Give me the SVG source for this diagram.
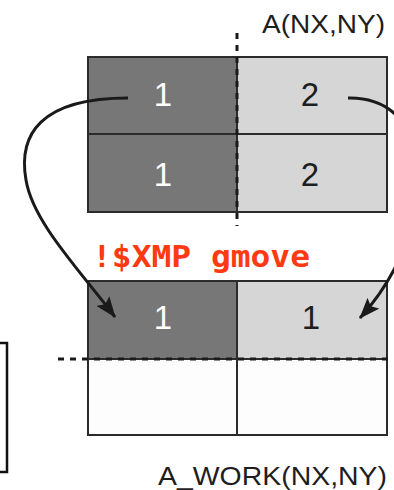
<svg xmlns="http://www.w3.org/2000/svg" width="394" height="490" viewBox="0 0 394 490">
  <style>
    .dark { fill: #777777; stroke: #2b2b2b; stroke-width: 2; }
    .light { fill: #d6d6d6; stroke: #2b2b2b; stroke-width: 2; }
    .empty { fill: #fdfdfd; stroke: #2b2b2b; stroke-width: 2; }
    .num { font-family: "Liberation Sans", Arial, sans-serif; font-size: 33px; text-anchor: middle; }
    .num-w { fill: #ffffff; }
    .num-b { fill: #1e1e1e; }
    .label { font-family: "Liberation Sans", Arial, sans-serif; font-size: 26px; fill: #1e1e1e; }
    .dash { stroke: #1a1a1a; stroke-width: 3; fill: none; stroke-dasharray: 6 6; }
    .conn { stroke: #1a1a1a; stroke-width: 3; fill: none; marker-end: url(#head); }
    .directive { font-family: "DejaVu Sans Mono", "Liberation Mono", monospace; font-weight: bold; font-size: 30px; fill: #ff3a12; }
  </style>
  <defs>
    <marker id="head" markerUnits="userSpaceOnUse" markerWidth="22" markerHeight="16" viewBox="0 0 22 16" refX="20" refY="8" orient="auto">
      <path d="M0,0 L21,8 L0,16 L4,8 Z" fill="#1a1a1a"/>
    </marker>
  </defs>

  <rect width="394" height="490" fill="#ffffff"/>

  <!-- source array A(NX,NY) -->
  <g id="array-a">
    <rect class="dark" x="88" y="57" width="149" height="77"/>
    <rect class="light" x="237" y="57" width="150" height="77"/>
    <rect class="dark" x="88" y="134" width="149" height="78"/>
    <rect class="light" x="237" y="134" width="150" height="78"/>
    <line class="dash" x1="237" y1="33" x2="237" y2="226" stroke-dasharray="6 5"/>
    <text class="num num-w" x="163" y="106">1</text>
    <text class="num num-b" x="310" y="106">2</text>
    <text class="num num-w" x="163" y="186">1</text>
    <text class="num num-b" x="310" y="186">2</text>
    <text class="label" x="262" y="33" textLength="123" lengthAdjust="spacingAndGlyphs">A(NX,NY)</text>
  </g>

  <!-- work array A_WORK(NX,NY) -->
  <g id="array-work">
    <rect class="dark" x="88" y="281" width="149" height="78"/>
    <rect class="light" x="237" y="281" width="150" height="78"/>
    <rect class="empty" x="88" y="359" width="149" height="76"/>
    <rect class="empty" x="237" y="359" width="150" height="76"/>
    <line class="dash" x1="58" y1="359" x2="394" y2="359"/>
    <text class="num num-w" x="163" y="329">1</text>
    <text class="num num-b" x="311" y="329">1</text>
    <text class="label" x="158" y="485" textLength="229" lengthAdjust="spacingAndGlyphs">A_WORK(NX,NY)</text>
  </g>

  <!-- edge of a neighbouring box -->
  <g id="side-box">
    <rect x="-10" y="343" width="17" height="129" fill="none" stroke="#111111" stroke-width="2.5"/>
  </g>

  <!-- directive label -->
  <g id="directive">
    <text class="directive" x="92" y="267" textLength="218" lengthAdjust="spacingAndGlyphs">!$XMP gmove</text>
  </g>

  <!-- data movement arrows -->
  <g id="connectors">
    <path class="conn" d="M128,98 C40,98 18,135 26,180 C33,222 78,268 115,317"/>
    <path class="conn" d="M348,98 C440,96 440,230 360,318"/>
  </g>
</svg>
